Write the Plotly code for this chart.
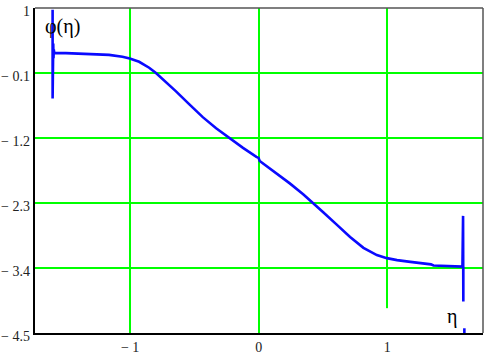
import plotly.graph_objects as go

# data
eta = [-1.603, -1.603, -1.601, -1.600, -1.598, -1.596, -1.594, -1.590, -1.50, -1.40,
       -1.320, -1.164, -1.060, -1.003, -0.930, -0.852, -0.799, -0.721, -0.643, -0.539,
       -0.435, -0.331, -0.227, -0.122, -0.018, -0.001, 0.008, 0.112, 0.242, 0.346,
       0.424, 0.502, 0.607, 0.711, 0.815, 0.919, 0.997, 1.076, 1.180, 1.280,
       1.340, 1.360, 1.450, 1.585, 1.590, 1.592, 1.591, 1.593, 1.592, None,
       1.600, 1.600]
phi = [0.97, -0.532, 0.50, 0.07, 0.40, 0.15, 0.30, 0.238, 0.236, 0.231,
       0.225, 0.207, 0.176, 0.145, 0.090, -0.011, -0.100, -0.250, -0.411, -0.632,
       -0.847, -1.034, -1.206, -1.367, -1.520, -1.537, -1.589, -1.755, -1.968, -2.152,
       -2.300, -2.455, -2.666, -2.875, -3.059, -3.182, -3.233, -3.267, -3.296, -3.325,
       -3.338, -3.358, -3.368, -3.377, -2.518, -3.966, -3.20, -3.55, -3.377, None,
       -4.42, -4.50]

x_ticks = [-1, 0, 1]
x_ticktext = ["\u2212 1", "0", "1"]
y_ticks = [1, -0.1, -1.2, -2.3, -3.4, -4.5]
y_ticktext = ["1", "\u2212 0.1", "\u2212 1.2", "\u2212 2.3", "\u2212 3.4", "\u2212 4.5"]

SERIF = "Liberation Serif"

fig = go.Figure()
fig.add_trace(go.Scatter(x=eta, y=phi, mode="lines",
                         line=dict(color="#0a0aff", width=2.6),
                         connectgaps=False, showlegend=False))

font = dict(family=SERIF, size=14, color="#222")

fig.update_xaxes(range=[-1.74, 1.745], tickvals=x_ticks, ticktext=x_ticktext,
                 showgrid=True, gridcolor="#00ff00", gridwidth=1.6,
                 zeroline=False, showline=True, linecolor="black", linewidth=1.5,
                 ticks="", tickfont=font, ticklabelstandoff=0, automargin=False)
fig.update_yaxes(range=[-4.5, 1], tickvals=y_ticks, showticklabels=False,
                 showgrid=True, gridcolor="#00ff00", gridwidth=1.6,
                 zeroline=False, showline=True, linecolor="black", linewidth=1.5,
                 ticks="", automargin=False)

# y tick labels (slightly below their grid lines, as in the reference)
for v, t in zip(y_ticks, y_ticktext):
    fig.add_annotation(text=t, xref="x domain", yref="y", x=0, y=v,
                       xanchor="right", yanchor="middle", xshift=-3, yshift=-3,
                       showarrow=False, font=font)

# grey top/right frame
fig.add_shape(type="line", xref="x domain", yref="y domain", x0=0, x1=1, y0=1, y1=1,
              line=dict(color="#555", width=1.5))
fig.add_shape(type="line", xref="x domain", yref="y domain", x0=1, x1=1, y0=0, y1=1,
              line=dict(color="#555", width=1.5))
# gap at bottom of the x=1 gridline
fig.add_shape(type="line", xref="x", yref="y", x0=1, x1=1, y0=-4.5, y1=-4.08,
              layer="between", line=dict(color="white", width=3))

fig.add_annotation(text="\u03c6(\u03b7)", xref="paper", yref="paper",
                   x=0.018, y=0.943, xanchor="left", yanchor="middle", showarrow=False,
                   font=dict(family=SERIF, size=20, color="black"))
fig.add_annotation(text="\u03b7", xref="x domain", yref="y domain",
                   x=0.93, y=0.05, xanchor="center", yanchor="middle", showarrow=False,
                   font=dict(family=SERIF, size=20, color="black"))

fig.update_layout(width=487, height=354, margin=dict(l=35, r=4, t=8, b=21),
                  plot_bgcolor="white", paper_bgcolor="white")

fig.write_html("out.html", config={"displayModeBar": False},
               post_script="document.body.style.margin='0';document.body.style.padding='0';")
